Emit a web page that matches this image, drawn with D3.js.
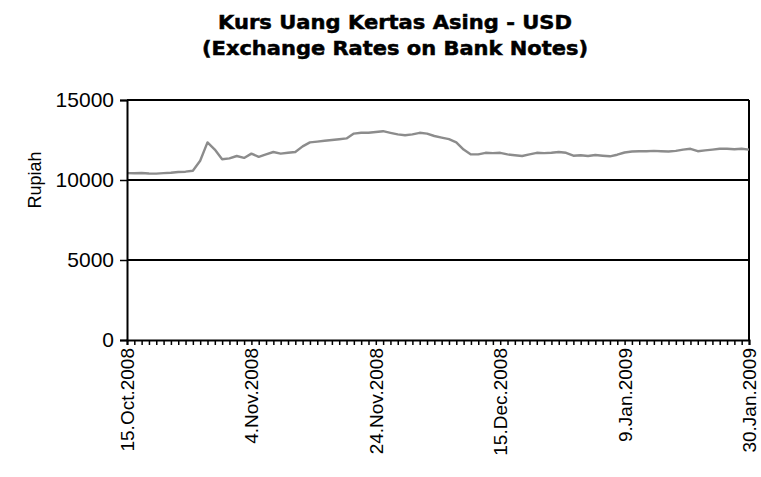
<!DOCTYPE html>
<html>
<head>
<meta charset="utf-8">
<script src="https://cdn.jsdelivr.net/npm/d3@7"></script>
<style>
  body { margin: 0; background: #fff; }
  svg { display: block; }
</style>
</head>
<body>
<div id="chart"></div>
<script>
const titleLines = ['Kurs Uang Kertas Asing - USD', '(Exchange Rates on Bank Notes)'];
const yTicks = [0, 5000, 10000, 15000];
const xTickIdx = [0, 17, 34, 51, 68, 85];
const xTickLabels = ['15.Oct.2008', '4.Nov.2008', '24.Nov.2008', '15.Dec.2008', '9.Jan.2009', '30.Jan.2009'];

// daily rate (86 points)
const rates = [
  10430, 10420, 10440, 10410, 10400, 10430, 10450, 10500, 10520, 10580,
  11200, 12350, 11900, 11300, 11350, 11500, 11380, 11650, 11450, 11600,
  11750, 11650, 11700, 11750, 12100, 12350, 12400, 12450, 12500, 12550,
  12600, 12900, 12950, 12950, 13000, 13050, 12950, 12850, 12800, 12850,
  12950, 12900, 12750, 12650, 12550, 12350, 11900, 11600, 11600, 11700,
  11680, 11700, 11600, 11550, 11500, 11600, 11700, 11680, 11700, 11750,
  11700, 11520, 11550, 11500, 11560, 11520, 11480, 11580, 11720, 11780,
  11800, 11800, 11820, 11800, 11780, 11820, 11900, 11950, 11800, 11850,
  11900, 11950, 11950, 11920, 11950, 11900
];

const W = 761, H = 477;
const margin = { top: 100, right: 12, bottom: 137, left: 127 };
const width = W - margin.left - margin.right;
const height = H - margin.top - margin.bottom;

const root = d3.select('#chart').append('svg')
  .attr('width', W).attr('height', H);

// ── Title ──
const titleW = [354, 386];
root.selectAll('.title')
  .data(titleLines).enter().append('text')
  .attr('x', 395)
  .attr('y', (d, i) => 29 + i * 26)
  .attr('text-anchor', 'middle')
  .attr('textLength', (d, i) => titleW[i])
  .attr('lengthAdjust', 'spacingAndGlyphs')
  .style('font-family', 'DejaVu Sans')
  .style('font-weight', 'bold')
  .style('font-size', '19px')
  .style('stroke', '#000').style('stroke-width', 0.5)
  .text(d => d);

const svg = root.append('g')
  .attr('transform', `translate(${margin.left},${margin.top})`);

const x = d3.scaleLinear().domain([0, rates.length - 1]).range([0, width]);
const y = d3.scaleLinear().domain([0, 15000]).range([height, 0]);

// Grid lines + frame
svg.selectAll('.grid')
  .data(yTicks.filter(d => d > 0)).enter().append('line')
  .attr('x1', 0).attr('x2', width)
  .attr('y1', d => y(d)).attr('y2', d => y(d))
  .attr('stroke', '#000').attr('stroke-width', 2);
svg.append('line')
  .attr('x1', width).attr('x2', width)
  .attr('y1', 0).attr('y2', height)
  .attr('stroke', '#000').attr('stroke-width', 2);

// Line
svg.append('path').datum(rates)
  .attr('fill', 'none')
  .attr('stroke', '#8c8c8c')
  .attr('stroke-width', 2.4)
  .attr('stroke-linejoin', 'round')
  .attr('d', d3.line().x((d, i) => x(i)).y(d => y(d)));

// Y Axis
const yAxis = svg.append('g')
  .call(d3.axisLeft(y).tickValues(yTicks).tickSize(7).tickPadding(6).tickFormat(d3.format('d')));
yAxis.select('.domain').attr('stroke-width', 2);
yAxis.selectAll('line').attr('stroke-width', 1.5);
yAxis.selectAll('text')
  .style('font-family', 'Liberation Sans, Arial, sans-serif')
  .style('font-size', '21px')
  .attr('fill', '#000');

// X Axis: small tick for every day
const xAxis = svg.append('g')
  .attr('transform', `translate(0,${height})`)
  .call(d3.axisBottom(x).tickValues(d3.range(rates.length)).tickSize(5).tickFormat(''));
xAxis.select('.domain').attr('stroke-width', 2);
xAxis.selectAll('line').attr('stroke-width', 1.5);

// X labels, rotated
svg.selectAll('.xlab')
  .data(xTickIdx).enter().append('text')
  .attr('transform', d => `translate(${x(d) + 7},${height + 8}) rotate(-90)`)
  .attr('text-anchor', 'end')
  .style('font-family', 'Liberation Sans, Arial, sans-serif')
  .style('font-size', '19px')
  .text((d, i) => xTickLabels[i]);

// Y title
root.append('text')
  .attr('transform', 'translate(41,180) rotate(-90)')
  .attr('text-anchor', 'middle')
  .style('font-family', 'Liberation Sans, Arial, sans-serif')
  .style('font-size', '18px')
  .text('Rupiah');
</script>
</body>
</html>
